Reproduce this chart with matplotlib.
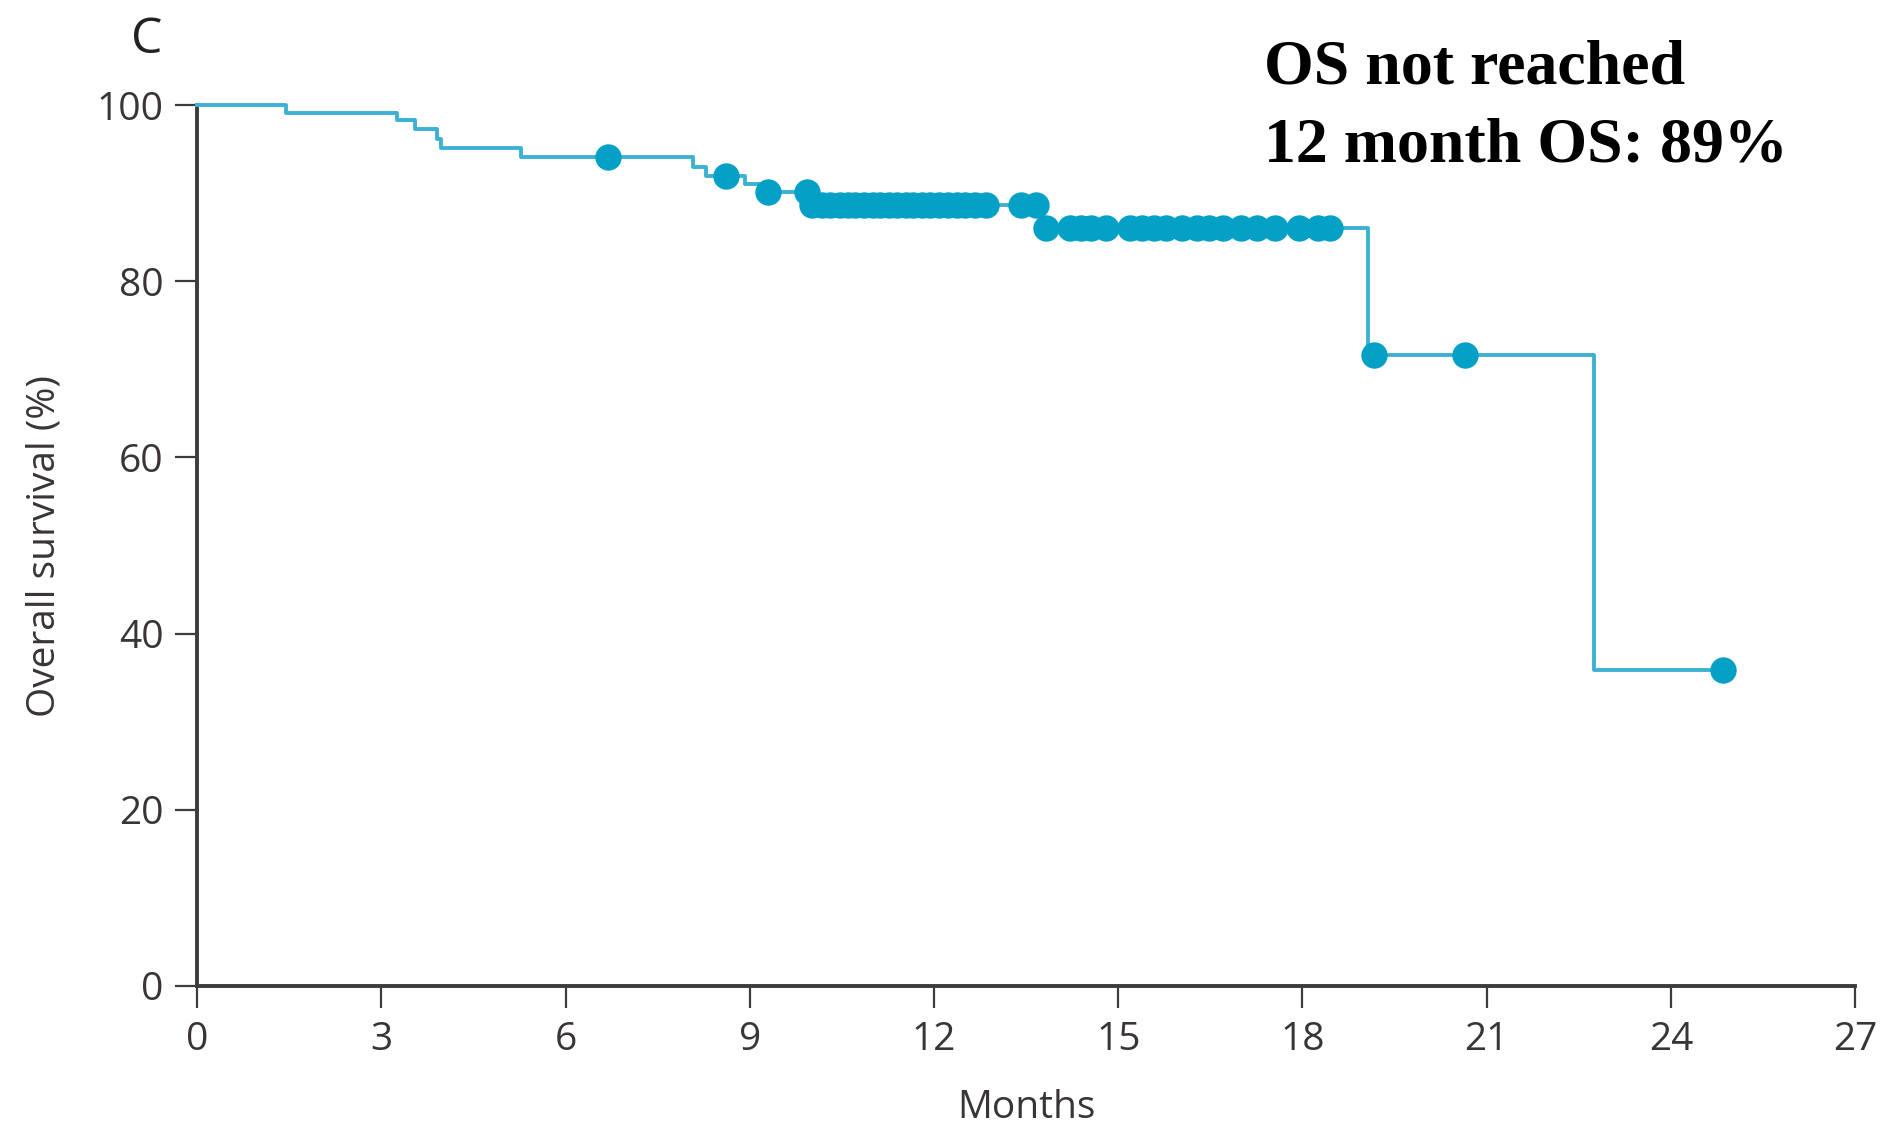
import numpy as np
import matplotlib
matplotlib.use("Agg")
import matplotlib.pyplot as plt

# Kaplan-Meier steps: time (months) and survival (%) after each drop
step_times = [0, 1.45, 3.25, 3.55, 3.90, 3.98, 5.28, 8.08, 8.29, 8.93, 9.15, 9.98, 13.75, 19.07, 22.75]
step_surv = [100, 99.1, 98.3, 97.3, 96.2, 95.1, 94.1, 93.0, 91.9, 91.0, 90.1, 88.7, 86.1, 71.6, 35.9]

# censored patients (months)
censor_times = [6.69, 8.62, 9.30, 9.93,
                10.02, 10.18, 10.31, 10.47, 10.60, 10.72, 10.86, 11.01, 11.12, 11.27,
                11.40, 11.55, 11.66, 11.81, 11.94, 12.08, 12.22, 12.37, 12.50, 12.66,
                12.84, 13.42, 13.66,
                13.82, 14.21, 14.40, 14.56, 14.80, 15.19, 15.39, 15.59, 15.78, 16.04,
                16.28, 16.47, 16.71, 17.00, 17.26, 17.55, 17.95, 18.25, 18.44,
                19.17, 20.65, 24.84]

end_time = 24.84

x_ticks = [0, 3, 6, 9, 12, 15, 18, 21, 24, 27]
y_ticks = [0, 20, 40, 60, 80, 100]

line_col = '#3db1d3'
dot_col = '#04a0c6'
axis_col = '#3c3c3c'
label_col = '#3a3535'

plt.rcParams['font.family'] = ['Open Sans', 'DejaVu Sans']

fig = plt.figure(figsize=(18.95, 11.38), dpi=100)
ax = fig.add_axes([0.104, 0.1336, 0.875, 0.774])

xs = step_times + [end_time]
ys = step_surv + [step_surv[-1]]
ax.step(xs, ys, where='post', color=line_col, lw=2.8, clip_on=False, zorder=3)

# survival level at each censoring time
idx = np.searchsorted(step_times, censor_times, side='right') - 1
censor_surv = np.array(step_surv)[idx]
ax.plot(censor_times, censor_surv, 'o', color=dot_col, ms=19, mew=0,
        clip_on=False, zorder=4)

ax.set_xlim(0, 27)
ax.set_ylim(0, 100)
ax.set_xticks(x_ticks)
ax.set_yticks(y_ticks)

for s in ['top', 'right']:
    ax.spines[s].set_visible(False)
for s in ['left', 'bottom']:
    ax.spines[s].set_color(axis_col)
    ax.spines[s].set_linewidth(2.8)

ax.tick_params(axis='both', colors=axis_col, labelcolor=label_col,
               length=16, width=1.6, labelsize=28)
ax.tick_params(axis='x', pad=9)
ax.tick_params(axis='y', pad=8)

ax.set_xlabel('Months', fontsize=28, color=label_col, labelpad=22)
ax.set_ylabel('Overall survival (%)', fontsize=28, color=label_col, labelpad=24)

fig.text(0.0776, 0.965, 'C', fontsize=36, color='#222222', ha='center', va='center')

fig.text(0.667, 0.927, 'OS not reached', fontsize=46, fontweight='bold',
         family='Liberation Serif', color='black', va='baseline')
fig.text(0.667, 0.8585, '12 month OS: 89%', fontsize=46, fontweight='bold',
         family='Liberation Serif', color='black', va='baseline')

fig.savefig('out.png', dpi=100)
